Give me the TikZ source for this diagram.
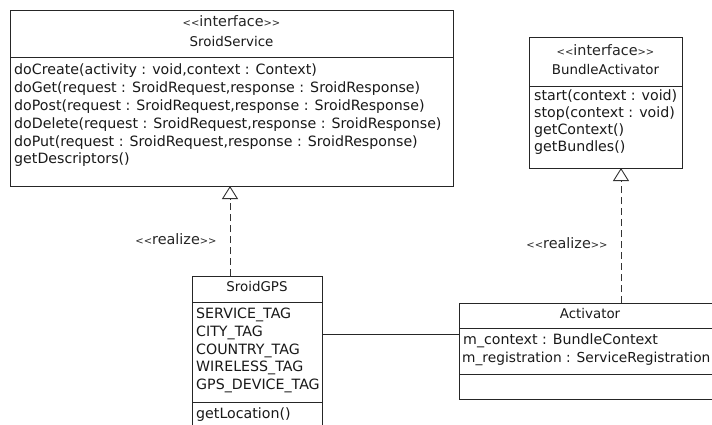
\documentclass[tikz,border=0pt]{standalone}
\usepackage{fontspec}
\setmainfont{DejaVu Sans}
\newfontfamily\umlfont{DejaVu Sans}
\usetikzlibrary{arrows.meta}

% small angle brackets used in stereotypes
\newcommand\stlt{{\fontsize{10}{10}\selectfont<}}
\newcommand\stgt{{\fontsize{10}{10}\selectfont>}}
\newcommand\stereotype[1]{\stlt\stlt#1\stgt\stgt}

\tikzset{
  umlbox/.style={draw=black!85, line width=0.9pt, fill=white, rectangle, inner sep=0pt, anchor=north west},
  divider/.style={draw=black!85, line width=0.9pt},
  member/.style={anchor=base west, inner sep=0pt, font=\umlfont\fontsize{14.2}{15}\selectfont, text=black!90},
  title/.style={anchor=base, inner sep=0pt, font=\umlfont\fontsize{13.4}{14}\selectfont, text=black!90},
  stereo/.style={anchor=base, inner sep=0pt, font=\umlfont\fontsize{14.4}{15}\selectfont, text=black!85},
  realize/.style={draw=black!80, line width=0.9pt, dash pattern=on 7pt off 4pt,
    -{Triangle[open, width=16pt, length=13pt, line width=0.9pt]}},
  assoc/.style={draw=black!85, line width=0.9pt}
}

\begin{document}
\begin{tikzpicture}[x=1pt, y=-1pt]
  \useasboundingbox (0,0) rectangle (712,425);
  \fill[white] (0,0) rectangle (712,425);
  \clip (0,0) rectangle (712,425);

  % ---------- SroidService interface ----------
  \node[umlbox, minimum width=443pt, minimum height=176pt] (svc) at (10,10) {};
  \draw[divider] (10,57) -- (453,57);
  \node[stereo] (svc-st) at (231.5,27) {\stereotype{interface}};
  \node[title]  (svc-nm) at (231.5,47) {SroidService};
  \node[member] (svc-m1) at (14,75)    {doCreate(activity : void,context : Context)};
  \node[member] (svc-m2) at (14,92.8)  {doGet(request : SroidRequest,response : SroidResponse)};
  \node[member] (svc-m3) at (14,110.6) {doPost(request : SroidRequest,response : SroidResponse)};
  \node[member] (svc-m4) at (14,128.4) {doDelete(request : SroidRequest,response : SroidResponse)};
  \node[member] (svc-m5) at (14,146.2) {doPut(request : SroidRequest,response : SroidResponse)};
  \node[member] (svc-m6) at (14,164)   {getDescriptors()};

  % ---------- BundleActivator interface ----------
  \node[umlbox, minimum width=153pt, minimum height=131pt] (ba) at (529,37) {};
  \draw[divider] (529,86) -- (682,86);
  \node[stereo] (ba-st) at (605.5,56) {\stereotype{interface}};
  \node[title]  (ba-nm) at (605.5,75) {BundleActivator};
  \node[member] (ba-m1) at (534,101) {start(context : void)};
  \node[member] (ba-m2) at (534,118) {stop(context : void)};
  \node[member] (ba-m3) at (534,135) {getContext()};
  \node[member] (ba-m4) at (534,152) {getBundles()};

  % ---------- SroidGPS class ----------
  \node[umlbox, minimum width=130pt, minimum height=170pt] (gps) at (192,276) {};
  \draw[divider] (192,302) -- (322,302);
  \draw[divider] (192,402) -- (322,402);
  \node[title]  (gps-nm) at (257,291) {SroidGPS};
  \node[member] (gps-a1) at (196,318) {SERVICE\_TAG};
  \node[member] (gps-a2) at (196,336) {CITY\_TAG};
  \node[member] (gps-a3) at (196,354) {COUNTRY\_TAG};
  \node[member] (gps-a4) at (196,371.5) {WIRELESS\_TAG};
  \node[member] (gps-a5) at (196,389) {GPS\_DEVICE\_TAG};
  \node[member] (gps-m1) at (196,418) {getLocation()};

  % ---------- Activator class ----------
  \node[umlbox, minimum width=262pt, minimum height=96pt] (act) at (459,303) {};
  \draw[divider] (459,328) -- (721,328);
  \draw[divider] (459,374) -- (721,374);
  \node[title]  (act-nm) at (590,318) {Activator};
  \node[member] (act-a1) at (463,344) {m\_context : BundleContext};
  \node[member, font=\umlfont\fontsize{13.75}{15}\selectfont] (act-a2) at (462,362) {m\_registration : ServiceRegistration};

  % ---------- relations ----------
  \coordinate (gps-top) at (230,276);
  \coordinate (svc-bot) at (230,186);
  \draw[realize] (gps-top) -- (svc-bot);
  \node[stereo] (rl1) at (176,244) {\stereotype{realize}};

  \coordinate (act-top) at (621,303);
  \coordinate (ba-bot) at (621,168);
  \draw[realize] (act-top) -- (ba-bot);
  \node[stereo] (rl2) at (567,248) {\stereotype{realize}};

  \draw[assoc] (gps.east |- 0,334) -- (act.west |- 0,334);
\end{tikzpicture}
\end{document}
